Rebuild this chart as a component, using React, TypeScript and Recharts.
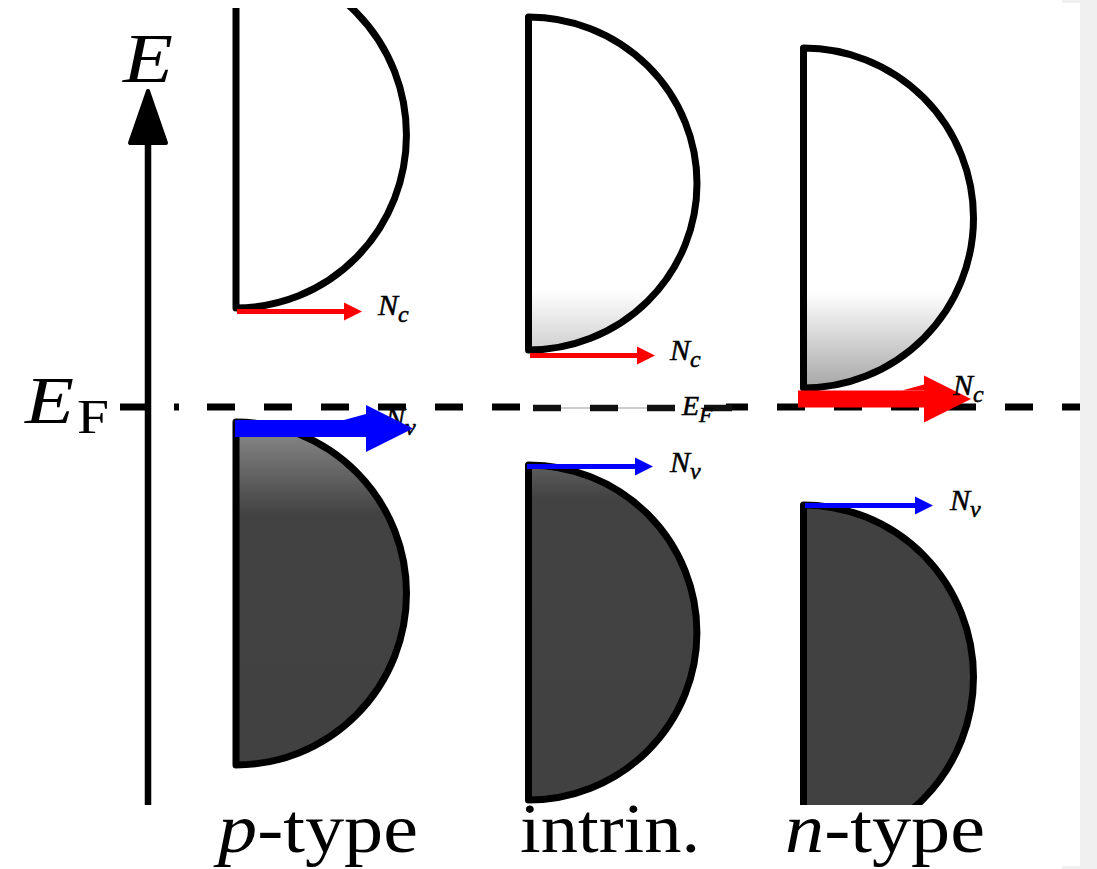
import React from 'react';
import { ComposedChart, XAxis, YAxis, ReferenceLine, Scatter } from 'recharts';

const W = 1097;
const H = 869;

// Energy axis: Fermi level at 0 (arbitrary energy units); DOS axis in arbitrary units
const energyDomain = [-3.98, 3.99];
const dosDomain = [0, 9.32];

const columnNames = ['p-type', 'intrin.', 'n-type'];
const columnLabelPos = [1.7, 4.62, 7.37];
const columnOrigin = [0.88, 3.805, 6.555];
const bandWidth = [1.705, 1.685, 1.7];

const conductionTop = [4.45, 3.9, 3.59];
const conductionEdge = [0.99, 0.57, 0.19];
const valenceEdge = [-0.15, -0.58, -0.98];
const valenceBottom = [-3.58, -3.93, -4.42];

// effective density-of-states arrows
const ncStart = [0.89, 3.82, 6.5];
const ncEnd = [2.14, 5.07, 8.23];
const ncLevel = [0.955, 0.515, 0.08];
const ncThick = [false, false, true];
const nvStart = [0.87, 3.79, 6.57];
const nvEnd = [2.65, 5.05, 7.85];
const nvLevel = [-0.215, -0.595, -0.985];
const nvThick = [true, false, false];

const labelData = [
  { x: 2.3, e: 0.92, sub: 'c' },
  { x: 5.22, e: 0.47, sub: 'c' },
  { x: 8.05, e: 0.12, sub: 'c' },
  { x: 5.22, e: -0.65, sub: 'v' },
  { x: 8.02, e: -1.03, sub: 'v' },
];
const hiddenLabel = { x: 2.37, e: -0.21, sub: 'v' };

const fermiLevel = 0;
const fermiStart = 0.26;
const energyAxisBottom = -3.98;
const energyAxisTip = 3.18;
const intrinsicFermiMark = { start: 3.79, end: 5.78, labelX: 5.34, labelE: -0.08 };

const cbGradIds = ['cbP', 'cbI', 'cbN'];
const vbGradIds = ['vbP', 'vbI', 'vbN'];

const SERIF = '"Liberation Serif", "Times New Roman", serif';

const bandShape = (gradId: string) => (p: any) => {
  const { x1, y1, x2, y2, clipPath } = p;
  const rx = Math.abs(x2 - x1);
  const ry = Math.abs(y2 - y1) / 2;
  const d = `M ${x1} ${y1} A ${rx} ${ry} 0 0 1 ${x1} ${y2} Z`;
  return (
    <g clipPath={clipPath}>
      <path d={d} fill={`url(#${gradId})`} stroke="#000" strokeWidth={7} strokeLinejoin="round" />
    </g>
  );
};

const arrowShape = (color: string, thick: boolean) => (p: any) => {
  const { x1, y1, x2 } = p;
  const shaft = thick ? 17 : 5;
  const headLen = thick ? 47 : 18;
  const headHalf = thick ? 23.5 : 9;
  const xb = x2 - headLen;
  const pts = [
    [x1, y1 - shaft / 2],
    [xb, y1 - shaft / 2],
    [xb, y1 - headHalf],
    [x2, y1],
    [xb, y1 + headHalf],
    [xb, y1 + shaft / 2],
    [x1, y1 + shaft / 2],
  ];
  return (
    <g>
      <polygon points={pts.map((q) => q.join(',')).join(' ')} fill={color} />
      {thick && (
        <polygon
          points={`${xb - 22},${y1 - shaft / 2} ${xb},${y1 - shaft / 2 - 6} ${xb},${y1 - shaft / 2}`}
          fill={color}
        />
      )}
    </g>
  );
};

const NLabel = ({ x, y, sub }: { x: number; y: number; sub: string }) => (
  <text x={x} y={y} fontFamily={SERIF} fontStyle="italic" fill="#000" stroke="#000" strokeWidth={0.5}>
    <tspan fontSize={30}>N</tspan>
    <tspan fontSize={24} dy={7}>{sub}</tspan>
  </text>
);

const energyAxisShape = (p: any) => {
  const { x1, y1, y2 } = p;
  const x = x1;
  const base = y2 + 56;
  return (
    <g>
      <line x1={x} y1={y1} x2={x} y2={base} stroke="#000" strokeWidth={6.5} />
      <polygon
        points={`${x - 18},${base - 2} ${x + 18},${base - 2} ${x},${y2 + 2}`}
        fill="#000"
        stroke="#000"
        strokeWidth={4}
        strokeLinejoin="round"
      />
      <text x={x - 25} y={y2 - 7} fontFamily={SERIF} fontStyle="italic" fontSize={70} textLength={50} lengthAdjust="spacingAndGlyphs">
        E
      </text>
    </g>
  );
};

const fermiDash = [5, 28, ...Array.from({ length: 18 }, () => [28, 29]).flat()].join(' ');

const fermiShape = (p: any) => {
  const { x1, y1, x2 } = p;
  return <line x1={x1} y1={y1} x2={x2} y2={y1} stroke="#000" strokeWidth={7} strokeDasharray={fermiDash} />;
};

const intrinsicFermiShape = (p: any) => {
  const { x1, y1, x2 } = p;
  const s = x1 + 6;
  return (
    <g>
      <rect x={x1} y={y1 - 8} width={x2 - x1} height={16} fill="#fff" />
      <line x1={s} y1={y1 + 1} x2={s + 141} y2={y1 + 1} stroke="#bbb" strokeWidth={1.5} />
      <line x1={s} y1={y1 + 1} x2={s + 199} y2={y1 + 1} stroke="#111" strokeWidth={6.5} strokeDasharray="28 29" />
    </g>
  );
};

const intrinsicFermiLabel = (p: any) => {
  const { x1, y1 } = p;
  return (
    <text x={x1} y={y1} fontFamily={SERIF} fontStyle="italic" fill="#000" stroke="#000" strokeWidth={0.5}>
      <tspan fontSize={28}>E</tspan>
      <tspan fontSize={22} dy={7}>F</tspan>
    </text>
  );
};

const hiddenLabelShape = (p: any) => <NLabel x={p.x1} y={p.y1} sub={hiddenLabel.sub} />;

const ColumnTick = (props: any) => {
  const { x, y, payload } = props;
  const i = columnLabelPos.indexOf(payload.value);
  const name = columnNames[i] ?? '';
  const lengths = [200, 180, 200];
  const italicFirst = name.endsWith('-type');
  return (
    <text
      x={x}
      y={y + 47}
      textAnchor="middle"
      fontFamily={SERIF}
      fontSize={70}
      fill="#000"
      textLength={lengths[i]}
      lengthAdjust="spacingAndGlyphs"
    >
      {italicFirst ? (
        <>
          <tspan fontStyle="italic">{name.slice(0, 1)}</tspan>
          <tspan>{name.slice(1)}</tspan>
        </>
      ) : (
        name
      )}
    </text>
  );
};

const FermiTick = (props: any) => {
  const { x, y } = props;
  return (
    <g>
      <text x={x - 84} y={y + 16} fontFamily={SERIF} fontStyle="italic" fontSize={68} textLength={49} lengthAdjust="spacingAndGlyphs" fill="#000">
        E
      </text>
      <text x={x - 32} y={y + 26} fontFamily={SERIF} fontSize={48} textLength={32} lengthAdjust="spacingAndGlyphs" fill="#000">
        F
      </text>
    </g>
  );
};

const LabelDot = (p: any) => {
  const { cx, cy, payload } = p;
  return <NLabel x={cx} y={cy} sub={payload.sub} />;
};

export default function App() {
  return (
    <div style={{ position: 'absolute', left: 0, top: 0, width: W, height: H, background: '#f0f0f0' }}>
      <div style={{ position: 'absolute', left: 0, top: 0, width: 1062, height: H, background: '#fff' }} />
      <div style={{ position: 'absolute', left: 1062, top: 3, width: 18, height: H - 6, background: '#fff' }} />
      <div style={{ position: 'absolute', left: 0, top: 0 }}>
        <ComposedChart width={W} height={H} margin={{ top: 8, right: 17, bottom: 0, left: 0 }} data={labelData}>
          <defs>
            <linearGradient id="cbP" x1="0" y1="0" x2="0" y2="1">
              <stop offset="0" stopColor="#fff" />
              <stop offset="1" stopColor="#fff" />
            </linearGradient>
            <linearGradient id="cbI" x1="0" y1="0" x2="0" y2="1">
              <stop offset="0" stopColor="#fff" />
              <stop offset="0.82" stopColor="#fff" />
              <stop offset="1" stopColor="#cfcfcf" />
            </linearGradient>
            <linearGradient id="cbN" x1="0" y1="0" x2="0" y2="1">
              <stop offset="0" stopColor="#fff" />
              <stop offset="0.72" stopColor="#fff" />
              <stop offset="1" stopColor="#a6a6a6" />
            </linearGradient>
            <linearGradient id="vbP" x1="0" y1="0" x2="0" y2="1">
              <stop offset="0" stopColor="#8e8e8e" />
              <stop offset="0.27" stopColor="#424242" />
              <stop offset="1" stopColor="#414141" />
            </linearGradient>
            <linearGradient id="vbI" x1="0" y1="0" x2="0" y2="1">
              <stop offset="0" stopColor="#5e5e5e" />
              <stop offset="0.1" stopColor="#424242" />
              <stop offset="1" stopColor="#414141" />
            </linearGradient>
            <linearGradient id="vbN" x1="0" y1="0" x2="0" y2="1">
              <stop offset="0" stopColor="#414141" />
              <stop offset="1" stopColor="#414141" />
            </linearGradient>
          </defs>
          <XAxis
            dataKey="x"
            type="number"
            domain={dosDomain}
            allowDataOverflow
            ticks={columnLabelPos}
            interval={0}
            axisLine={false}
            tickLine={false}
            tickSize={0}
            tickMargin={0}
            height={64}
            tick={<ColumnTick />}
          />
          <YAxis
            dataKey="e"
            type="number"
            domain={energyDomain}
            allowDataOverflow
            ticks={[fermiLevel]}
            interval={0}
            width={148}
            axisLine={false}
            tickLine={{ stroke: '#000', strokeWidth: 7 }}
            tickSize={28}
            tickMargin={11}
            tick={<FermiTick />}
          />
          {columnOrigin.map((x0, i) => (
            <ReferenceLine
              key={`cb${i}`}
              segment={[
                { x: x0, y: conductionTop[i] },
                { x: x0 + bandWidth[i], y: conductionEdge[i] },
              ]}
              ifOverflow="hidden"
              shape={bandShape(cbGradIds[i])}
            />
          ))}
          {columnOrigin.map((x0, i) => (
            <ReferenceLine
              key={`vb${i}`}
              segment={[
                { x: x0, y: valenceEdge[i] },
                { x: x0 + bandWidth[i], y: valenceBottom[i] },
              ]}
              ifOverflow="hidden"
              shape={bandShape(vbGradIds[i])}
            />
          ))}
          <ReferenceLine
            segment={[
              { x: 0, y: energyAxisBottom },
              { x: 0, y: energyAxisTip },
            ]}
            ifOverflow="visible"
            shape={energyAxisShape}
          />
          <ReferenceLine
            segment={[
              { x: fermiStart, y: fermiLevel },
              { x: dosDomain[1], y: fermiLevel },
            ]}
            ifOverflow="visible"
            shape={fermiShape}
          />
          <ReferenceLine
            segment={[
              { x: intrinsicFermiMark.start, y: fermiLevel },
              { x: intrinsicFermiMark.end, y: fermiLevel },
            ]}
            ifOverflow="visible"
            shape={intrinsicFermiShape}
          />
          <ReferenceLine
            segment={[
              { x: intrinsicFermiMark.labelX, y: intrinsicFermiMark.labelE },
              { x: intrinsicFermiMark.labelX, y: intrinsicFermiMark.labelE },
            ]}
            ifOverflow="visible"
            shape={intrinsicFermiLabel}
          />
          <ReferenceLine
            segment={[
              { x: hiddenLabel.x, y: hiddenLabel.e },
              { x: hiddenLabel.x, y: hiddenLabel.e },
            ]}
            ifOverflow="visible"
            shape={hiddenLabelShape}
          />
          {ncStart.map((s, i) => (
            <ReferenceLine
              key={`nc${i}`}
              segment={[
                { x: s, y: ncLevel[i] },
                { x: ncEnd[i], y: ncLevel[i] },
              ]}
              ifOverflow="visible"
              shape={arrowShape('#ff0000', ncThick[i])}
            />
          ))}
          {nvStart.map((s, i) => (
            <ReferenceLine
              key={`nv${i}`}
              segment={[
                { x: s, y: nvLevel[i] },
                { x: nvEnd[i], y: nvLevel[i] },
              ]}
              ifOverflow="visible"
              shape={arrowShape('#0000ff', nvThick[i])}
            />
          ))}
          <Scatter data={labelData} dataKey="e" isAnimationActive={false} shape={LabelDot} />
        </ComposedChart>
      </div>
    </div>
  );
}
